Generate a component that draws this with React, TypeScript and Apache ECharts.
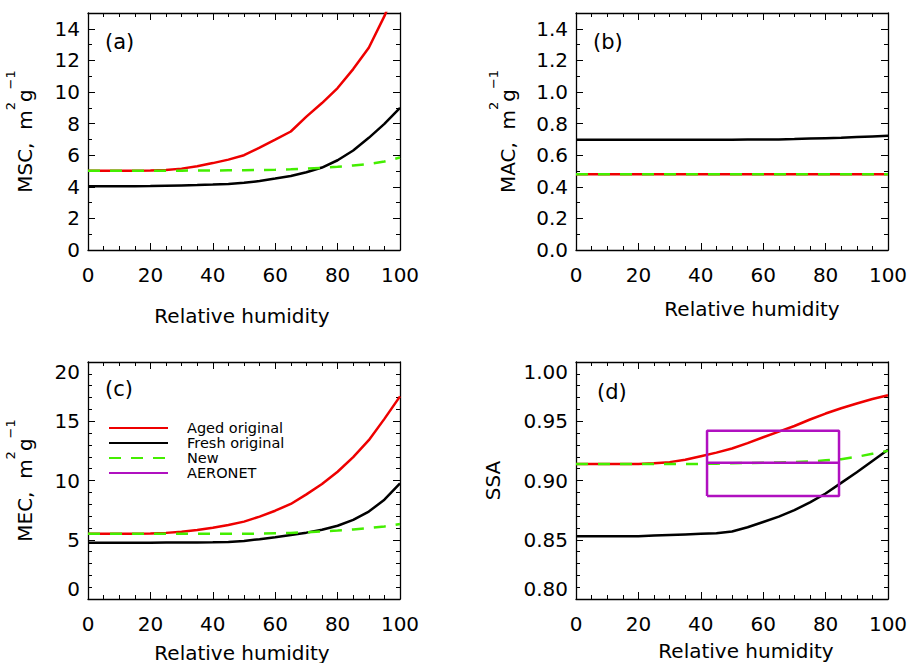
import React, { useEffect, useRef } from 'react';
import * as echarts from 'echarts';

// ---------- data ----------
const RH = [0, 5, 10, 15, 20, 25, 30, 35, 40, 45, 50, 55, 60, 65, 70, 75, 80, 85, 90, 95, 100];

// (a) MSC
const mscAged = [5.02, 5.02, 5.02, 5.02, 5.03, 5.06, 5.15, 5.3, 5.5, 5.72, 6.0, 6.48, 6.98, 7.5, 8.44, 9.3, 10.25, 11.45, 12.8, 14.8, 17.2];
const mscFresh = [4.03, 4.03, 4.03, 4.04, 4.05, 4.07, 4.09, 4.11, 4.14, 4.18, 4.25, 4.37, 4.52, 4.68, 4.92, 5.22, 5.68, 6.3, 7.1, 7.98, 9.0];
const mscNew = [5.02, 5.02, 5.02, 5.02, 5.02, 5.02, 5.02, 5.03, 5.03, 5.04, 5.05, 5.06, 5.08, 5.11, 5.15, 5.2, 5.27, 5.35, 5.45, 5.6, 5.85];

// (b) MAC
const macAged = [0.479, 0.479, 0.479, 0.479, 0.479, 0.479, 0.479, 0.479, 0.479, 0.479, 0.479, 0.479, 0.479, 0.479, 0.479, 0.479, 0.479, 0.479, 0.48, 0.48, 0.48];
const macFresh = [0.697, 0.697, 0.697, 0.697, 0.697, 0.697, 0.697, 0.698, 0.698, 0.698, 0.698, 0.699, 0.699, 0.7, 0.702, 0.705, 0.708, 0.711, 0.715, 0.719, 0.723];
const macNew = [0.479, 0.479, 0.479, 0.479, 0.479, 0.479, 0.479, 0.479, 0.479, 0.479, 0.479, 0.479, 0.479, 0.479, 0.479, 0.479, 0.479, 0.479, 0.48, 0.48, 0.48];

// (c) MEC
const mecAged = [5.5, 5.5, 5.5, 5.5, 5.52, 5.58, 5.68, 5.83, 6.02, 6.25, 6.53, 6.95, 7.45, 8.02, 8.83, 9.7, 10.74, 11.98, 13.4, 15.2, 17.1];
const mecFresh = [4.75, 4.75, 4.75, 4.75, 4.75, 4.76, 4.76, 4.77, 4.78, 4.81, 4.9, 5.05, 5.22, 5.4, 5.6, 5.84, 6.18, 6.68, 7.38, 8.38, 9.76];
const mecNew = [5.5, 5.5, 5.5, 5.5, 5.5, 5.5, 5.5, 5.5, 5.5, 5.5, 5.5, 5.52, 5.55, 5.58, 5.63, 5.7, 5.78, 5.87, 5.98, 6.12, 6.32];

// (d) SSA
const ssaAged = [0.914, 0.914, 0.914, 0.914, 0.914, 0.9145, 0.9155, 0.9175, 0.9205, 0.9235, 0.927, 0.9315, 0.9365, 0.9412, 0.946, 0.9515, 0.9565, 0.961, 0.965, 0.9688, 0.972];
const ssaFresh = [0.853, 0.853, 0.853, 0.853, 0.853, 0.8535, 0.854, 0.8545, 0.855, 0.8555, 0.857, 0.8605, 0.865, 0.8695, 0.875, 0.8815, 0.889, 0.898, 0.907, 0.9165, 0.926];
const ssaNew = [0.914, 0.914, 0.914, 0.914, 0.914, 0.914, 0.914, 0.914, 0.914, 0.9142, 0.9145, 0.9148, 0.915, 0.9152, 0.9155, 0.916, 0.917, 0.918, 0.92, 0.9225, 0.925];

// AERONET box: RH range and SSA low / mean / high
const aeronetRH = [42, 84.3];
const aeronetSSA = [0.887, 0.915, 0.942];

const seriesNames = ['Aged original', 'Fresh original', 'New', 'AERONET'];
const xTicks = [0, 20, 40, 60, 80, 100];

// ---------- style ----------
const FONT = 'DejaVu Sans';
const RED = '#ee0000';
const BLACK = '#000000';
const GREEN = '#44ee00';
const PURPLE = '#b010c0';

const zip = (xs: number[], ys: number[]) => xs.map((x, i) => [x, ys[i]]);

interface PanelCfg {
  left: number;
  top: number;
  yMin: number;
  yMax: number;
  yInterval: number;
  yMinor: number;
  yName: string;
  yNameGap: number;
  xNameGap: number;
  xNamePad: number[];
  decimals: number;
  label: string;
  labelX: number;
  labelY: number;
  hideMax: boolean;
}

const panels: PanelCfg[] = [
  { left: 88, top: 13, yMin: 0, yMax: 15, yInterval: 2, yMinor: 2, yName: '{n|MSC,  m}{s|2}{n|g}{s|\u22121}', yNameGap: 53, xNameGap: 56, xNamePad: [0, 4, 0, 0], decimals: 0, label: '(a)', labelX: 105, labelY: 42, hideMax: true },
  { left: 576, top: 13, yMin: 0, yMax: 1.5, yInterval: 0.2, yMinor: 2, yName: '{n|MAC,  m}{s|2}{n|g}{s|\u22121}', yNameGap: 58, xNameGap: 49, xNamePad: [0, 0, 0, 40], decimals: 1, label: '(b)', labelX: 593, labelY: 42, hideMax: true },
  { left: 88, top: 362, yMin: 0, yMax: 20, yInterval: 5, yMinor: 5, yName: '{n|MEC,  m}{s|2}{n|g}{s|\u22121}', yNameGap: 53, xNameGap: 43.5, xNamePad: [0, 4, 0, 0], decimals: 0, label: '(c)', labelX: 105, labelY: 389, hideMax: false },
  { left: 576, top: 362, yMin: 0.8, yMax: 1.0, yInterval: 0.05, yMinor: 5, yName: '{n|SSA}', yNameGap: 73, xNameGap: 41.5, xNamePad: [0, 0, 0, 28], decimals: 2, label: '(d)', labelX: 597, labelY: 392, hideMax: false },
];

const panelData = [
  [mscAged, mscFresh, mscNew],
  [macAged, macFresh, macNew],
  [mecAged, mecFresh, mecNew],
  [ssaAged, ssaFresh, ssaNew],
];

const GW = 312;
const GH = 237;

function buildOption() {
  const grid: any[] = [];
  const xAxis: any[] = [];
  const yAxis: any[] = [];
  const series: any[] = [];
  const graphic: any[] = [];

  const axisLine = { show: true, onZero: false, lineStyle: { color: '#000', width: 1.3 } };
  const tick = { show: true, inside: true, length: 7, lineStyle: { color: '#000', width: 1 } };

  panels.forEach((p, g) => {
    grid.push({ left: p.left, top: p.top, width: GW, height: GH, outerBoundsMode: 'none', containLabel: false });

    const xBase = {
      type: 'value', gridIndex: g, min: 0, max: 100, interval: 20,
      axisLine, axisTick: tick,
      minorTick: { show: true, splitNumber: 4, length: 4, lineStyle: { color: '#000', width: 1 } },
      splitLine: { show: false }, minorSplitLine: { show: false },
    };
    xAxis.push({
      ...xBase, position: 'bottom',
      axisLabel: { show: true, margin: 15, color: '#000', fontSize: 20, fontFamily: FONT, customValues: xTicks },
      name: 'Relative humidity', nameLocation: 'middle', nameGap: p.xNameGap, nameMoveOverlap: false,
      nameTextStyle: { color: '#000', fontSize: 20, fontFamily: FONT, padding: p.xNamePad },
    });
    xAxis.push({ ...xBase, position: 'top', axisLabel: { show: false } });

    const yBase = {
      type: 'value', gridIndex: g, min: p.yMin, max: p.yMax, interval: p.yInterval,
      axisLine, axisTick: tick,
      minorTick: { show: true, splitNumber: p.yMinor, length: 4, lineStyle: { color: '#000', width: 1 } },
      splitLine: { show: false }, minorSplitLine: { show: false },
    };
    const yLabel: any = {
      show: true, margin: 8, color: '#000', fontSize: 20, fontFamily: FONT,
      showMaxLabel: !p.hideMax,
      formatter: (v: number) => v.toFixed(p.decimals),
    };
    if (!p.hideMax) {
      yLabel.verticalAlignMinLabel = 'bottom';
      yLabel.verticalAlignMaxLabel = 'top';
    }
    yAxis.push({
      ...yBase, position: 'left',
      axisLabel: yLabel,
      name: p.yName, nameLocation: 'middle', nameRotate: 90, nameGap: p.yNameGap, nameMoveOverlap: false,
      nameTextStyle: {
        color: '#000', fontSize: 20, fontFamily: FONT,
        rich: {
          n: { fontSize: 20, fontFamily: FONT, color: '#000', lineHeight: 31, verticalAlign: 'bottom' },
          s: { fontSize: 13, fontFamily: FONT, color: '#000', verticalAlign: 'top' },
        },
      },
    });
    yAxis.push({ ...yBase, position: 'right', axisLabel: { show: false } });

    const [aged, fresh, nw] = panelData[g];
    const common = {
      type: 'line', xAxisIndex: 2 * g, yAxisIndex: 2 * g, symbol: 'none', showSymbol: false,
      silent: true, clip: true, smooth: false,
    };
    series.push({ ...common, name: seriesNames[0], data: zip(RH, aged), lineStyle: { color: RED, width: 2.5 }, itemStyle: { color: RED } });
    series.push({ ...common, name: seriesNames[1], data: zip(RH, fresh), lineStyle: { color: BLACK, width: 2.5 }, itemStyle: { color: BLACK } });
    series.push({ ...common, name: seriesNames[2], data: zip(RH, nw), lineStyle: { color: GREEN, width: 2.5, type: [12, 10] }, itemStyle: { color: GREEN } });
    if (g === 3) {
      const [lo, mid, hi] = aeronetSSA;
      const [x0, x1] = aeronetRH;
      series.push({
        ...common, name: seriesNames[3],
        data: [[x0, lo], [x0, hi], [x1, hi], [x1, lo], [x0, lo]],
        lineStyle: { color: PURPLE, width: 2.5 }, itemStyle: { color: PURPLE },
      });
      series.push({
        ...common, name: seriesNames[3],
        data: [[x0, mid], [x1, mid]],
        lineStyle: { color: PURPLE, width: 2.5 }, itemStyle: { color: PURPLE },
      });
    }

    graphic.push({
      type: 'text', x: p.labelX, y: p.labelY, silent: true,
      style: { text: p.label, fontSize: 21, fontFamily: FONT, fill: '#000', align: 'left', verticalAlign: 'middle' },
    });
  });

  return {
    animation: false,
    backgroundColor: '#ffffff',
    grid, xAxis, yAxis, series, graphic,
    legend: {
      show: true, orient: 'vertical', left: 108, top: 420.5, padding: 0, itemGap: 0,
      itemWidth: 59, itemHeight: 10, selectedMode: false,
      data: seriesNames,
      itemStyle: { opacity: 0, borderWidth: 0 },
      textStyle: { color: '#000', fontFamily: FONT, fontSize: 14.5, lineHeight: 15, padding: [0, 0, 0, 14] },
    },
  };
}

export default function App() {
  const ref = useRef<HTMLDivElement>(null);
  useEffect(() => {
    if (!ref.current) return;
    const chart = echarts.init(ref.current, null, { renderer: 'svg' });
    chart.setOption(buildOption() as any);
    return () => chart.dispose();
  }, []);
  return (
    <div
      ref={ref}
      style={{ position: 'absolute', left: 0, top: 0, width: 909, height: 663, background: '#fff' }}
    />
  );
}
